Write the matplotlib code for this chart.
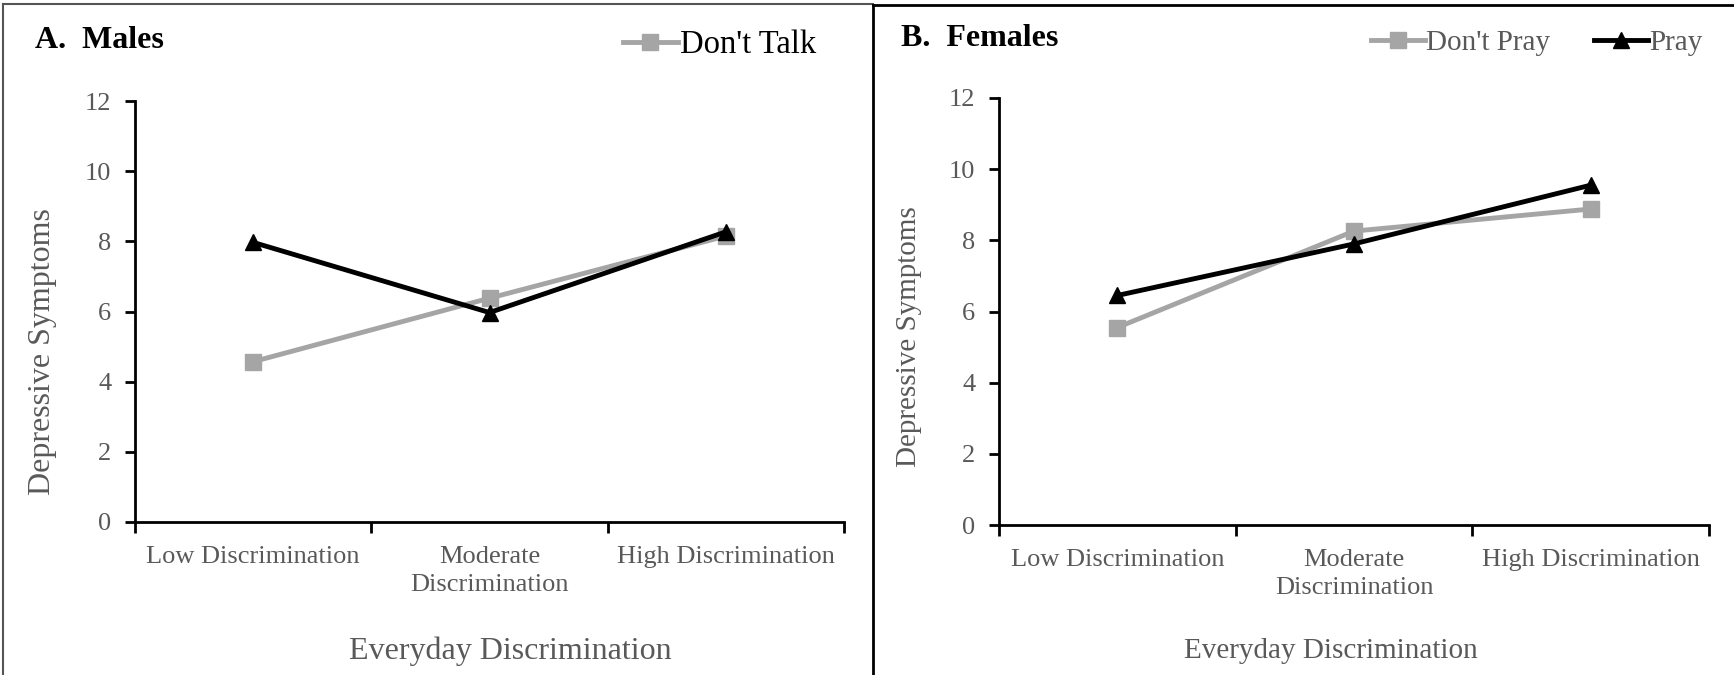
import numpy as np
import matplotlib.pyplot as plt
from matplotlib.lines import Line2D

plt.rcParams['font.family'] = ['Liberation Serif', 'DejaVu Serif']

categories = ['Low Discrimination', 'Moderate\nDiscrimination', 'High Discrimination']

males_dont_talk = [4.57, 6.38, 8.15]
males_talk = [7.97, 5.97, 8.27]

females_dont_pray = [5.55, 8.26, 8.88]
females_pray = [6.45, 7.90, 9.55]

yticks = [0, 2, 4, 6, 8, 10, 12]

GRAY = '#a5a5a5'
TXT = '#595959'

W, H = 1734, 675
fig = plt.figure(figsize=(W/100, H/100), dpi=100)


def style_axes(ax, labelsize):
    x = np.arange(len(categories)) + 0.5
    ax.set_xlim(0, len(categories))
    ax.set_ylim(0, 12)
    ax.set_yticks(yticks)
    ax.set_xticks(np.arange(len(categories) + 1))
    ax.set_xticklabels([])
    ax.set_xticks(x, minor=True)
    ax.set_xticklabels(categories, minor=True, fontsize=19, color=TXT,
                       linespacing=1.35)
    ax.tick_params(axis='x', which='minor', length=0, pad=17)
    ax.tick_params(axis='x', which='major', length=8, width=2, direction='out')
    ax.tick_params(axis='y', length=7, width=2, direction='out',
                   labelsize=19, labelcolor=TXT, pad=10)
    for s in ['top', 'right']:
        ax.spines[s].set_visible(False)
    for s in ['left', 'bottom']:
        ax.spines[s].set_linewidth(2)
    ax.set_xlabel('Everyday Discrimination', fontsize=labelsize, color=TXT,
                  va='center')
    ax.set_ylabel('Depressive Symptoms', fontsize=labelsize, color=TXT,
                  va='center')
    return x


# panel A
ax1 = fig.add_axes([135/W, 1-522/H, 709/W, 421/H])
x = style_axes(ax1, 23)
l1, = ax1.plot(x, males_dont_talk, '-s', color=GRAY, lw=3.5, ms=11,
               label="Don't Talk")
ax1.plot(x, males_talk, '-^', color='black', lw=3.5, ms=11, label='Talk')
ax1.xaxis.set_label_coords(0.529, -0.306)
ax1.yaxis.set_label_coords(-0.131, 0.406)
fig.text(35/W, 1-40/H, 'A.  Males', fontsize=23, fontweight='bold',
         va='center', ha='left')
fig.legend(handles=[l1], loc='center right', bbox_to_anchor=(816/W, 1-45/H),
           frameon=False, fontsize=23.5, handlelength=1.7, handletextpad=0.05,
           borderpad=0, borderaxespad=0)

# panel B
ax2 = fig.add_axes([999/W, 1-525/H, 710/W, 427/H])
x = style_axes(ax2, 21)
l2, = ax2.plot(x, females_dont_pray, '-s', color=GRAY, lw=3.5, ms=11,
               label="Don't Pray")
l3, = ax2.plot(x, females_pray, '-^', color='black', lw=3.5, ms=11,
               label='Pray')
ax2.xaxis.set_label_coords(0.468, -0.295)
ax2.yaxis.set_label_coords(-0.127, 0.44)
fig.text(901/W, 1-38/H, 'B.  Females', fontsize=23, fontweight='bold',
         va='center', ha='left')
leg = fig.legend(handles=[l2, l3], loc='center right', ncol=2,
                 bbox_to_anchor=(1703/W, 1-43/H), frameon=False, fontsize=21,
                 handlelength=1.85, handletextpad=0.05, columnspacing=1.5,
                 borderpad=0, borderaxespad=0)
for t in leg.get_texts():
    t.set_color(TXT)

# panel borders
fig.add_artist(Line2D([3/W, 3/W], [0, 1-4/H], color='#555555', lw=1.5))
fig.add_artist(Line2D([3/W, 873/W], [1-4/H, 1-4/H], color='#555555', lw=1.5))
fig.add_artist(Line2D([873/W, 873/W], [0, 1-5/H], color='black', lw=2))
fig.add_artist(Line2D([873/W, 1], [1-5/H, 1-5/H], color='black', lw=2))

fig.savefig('out.png', dpi=100)
